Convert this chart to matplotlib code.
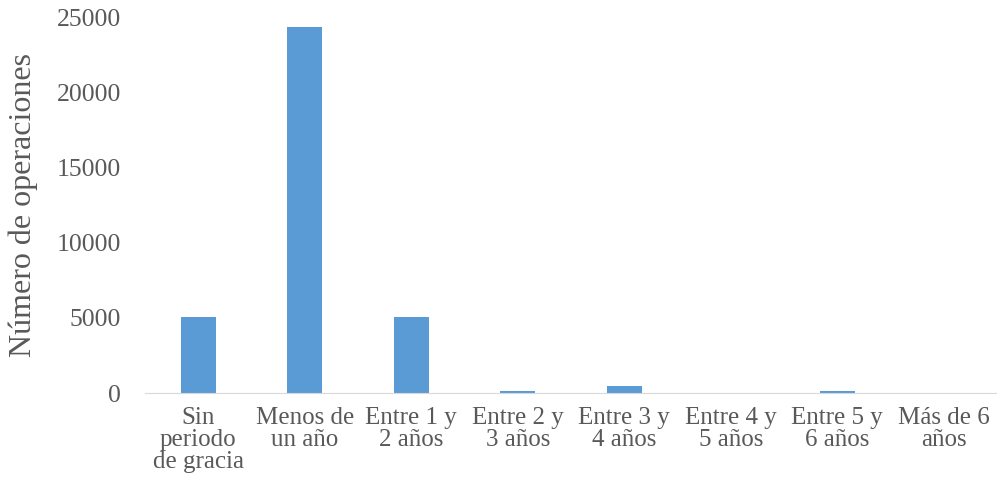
import matplotlib.pyplot as plt
import numpy as np

categorias = ['Sin\nperiodo\nde gracia', 'Menos de\nun año', 'Entre 1 y\n2 años', 'Entre 2 y\n3 años',
              'Entre 3 y\n4 años', 'Entre 4 y\n5 años', 'Entre 5 y\n6 años', 'Más de 6\naños']
operaciones = [5050, 24400, 5050, 150, 450, 20, 150, 10]
yticks = [0, 5000, 10000, 15000, 20000, 25000]

gris = '#595959'
plt.rcParams['font.family'] = ['Liberation Serif', 'DejaVu Serif']

fig, ax = plt.subplots(figsize=(9.97, 4.95), dpi=100)
fig.subplots_adjust(left=0.1454, right=1.0, top=0.964, bottom=0.206)

x = np.arange(len(categorias))
ax.bar(x, operaciones, width=0.33, color='#5B9BD5')

ax.set_xlim(-0.5, len(categorias) - 0.5)
ax.set_ylim(0, 25000)
ax.set_yticks(yticks)
ax.set_xticks(x)
ax.set_xticklabels(categorias, fontsize=18, color=gris, linespacing=1.0)
ax.tick_params(axis='y', labelsize=18.5, labelcolor=gris, length=0, pad=17)
ax.tick_params(axis='x', length=0, pad=10)
ax.set_ylabel('Número de operaciones', fontsize=23, color=gris)
ax.yaxis.set_label_coords(-0.126, 0.50)

for s in ['top', 'right', 'left']:
    ax.spines[s].set_visible(False)
ax.spines['bottom'].set_color('#d9d9d9')

plt.savefig('out.png', dpi=100)
